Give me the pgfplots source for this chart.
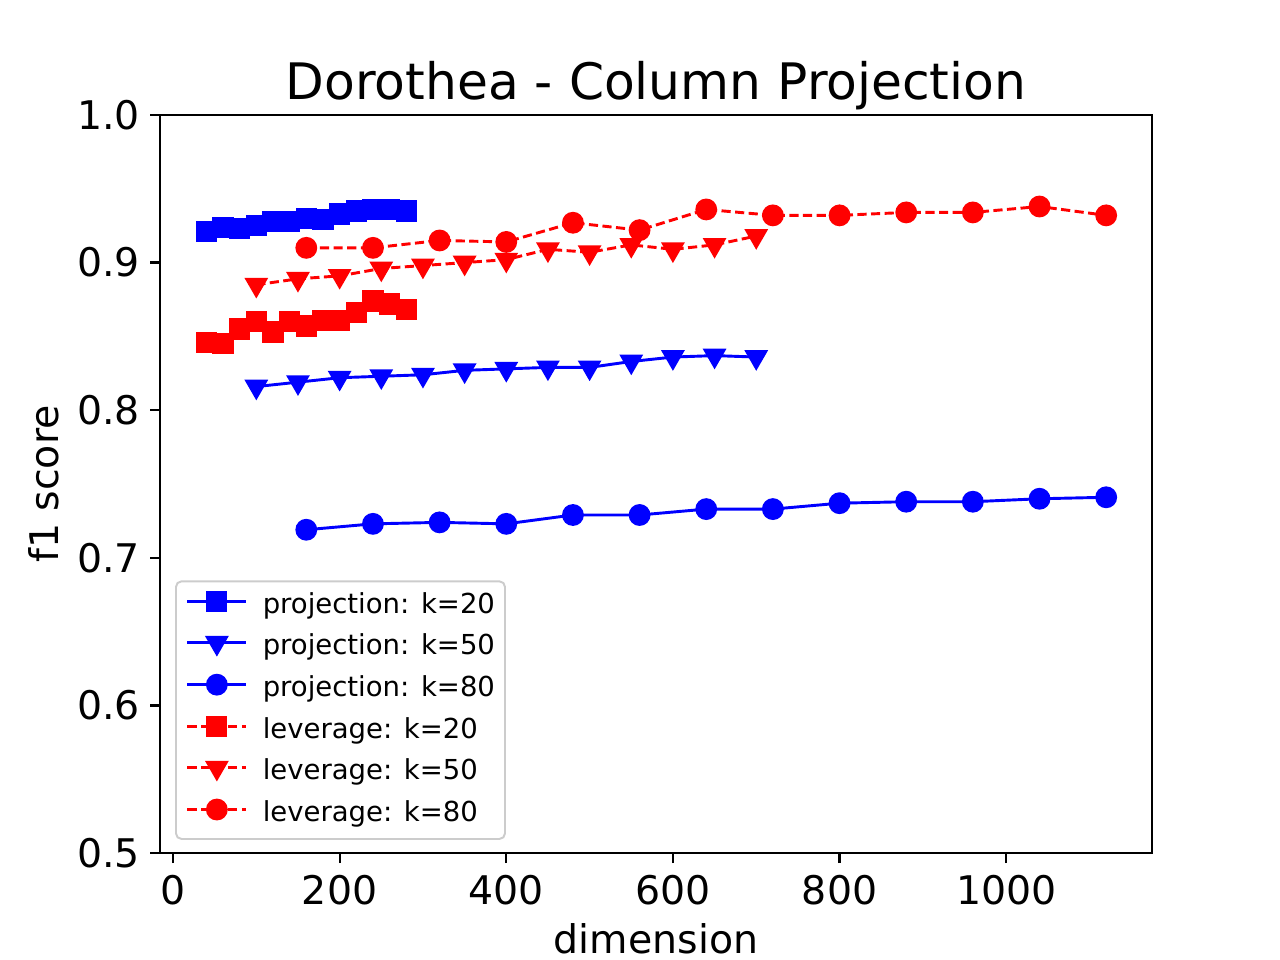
\documentclass[border=0pt]{standalone}
\usepackage{fontspec}
\setmainfont{DejaVu Sans}
\usepackage{pgfplots}
\pgfplotsset{compat=1.18}
\definecolor{mblue}{RGB}{0,0,255}
\definecolor{mred}{RGB}{255,0,0}
\begin{document}
\begin{tikzpicture}
\useasboundingbox (0,0) rectangle (460.8pt,345.6pt);
\begin{axis}[
  at={(57.6pt,38.52pt)}, anchor=south west,
  scale only axis, width=357.12pt, height=265.68pt,
  xmin=-15.6, xmax=1175, ymin=0.5, ymax=1.0,
  xtick={0,200,400,600,800,1000},
  ytick={0.5,0.6,0.7,0.8,0.9,1.0},
  xticklabel style={/pgf/number format/1000 sep={}},
  yticklabel style={/pgf/number format/fixed,/pgf/number format/fixed zerofill,/pgf/number format/precision=1},
  /pgf/number format/assume math mode=true,
  tick align=outside, major tick length=3.6pt,
  xtick pos=bottom, ytick pos=left,
  axis line style={line width=0.8pt},
  every tick/.style={black, line width=0.8pt},
  ticklabel style={font=\fontsize{14.2}{17}\selectfont, inner sep=0pt},
  xticklabel style={anchor=base, yshift=-15.1pt},
  yticklabel style={anchor=east, xshift=-3.4pt},
  title={Dorothea - Column Projection},
  title style={font=\fontsize{18.1}{21}\selectfont, at={(axis description cs:0.5,1)}, anchor=base, yshift=-0.4pt, inner sep=0pt},
  xlabel={dimension},
  xlabel style={font=\fontsize{14.2}{17}\selectfont, at={(axis description cs:0.5,0)}, anchor=base, yshift=-36pt, inner sep=0pt},
  ylabel={f1 score},
  ylabel style={font=\fontsize{14.2}{17}\selectfont, at={(axis description cs:-0.1176,0.5)}, anchor=center, inner sep=0pt},
  legend cell align=left,
  legend image code/.code={\draw[mark repeat=2,mark phase=2,yshift=1.7pt] plot coordinates {(0pt,0pt)(10.6pt,0pt)(21.2pt,0pt)};},
  legend style={at={(axis description cs:0,0)}, anchor=south west, xshift=5.4pt, yshift=4.7pt,
    font=\fontsize{9.9}{12}\selectfont, draw=black!20, line width=0.7pt, rounded corners=2pt,
    inner xsep=3.6pt, inner ysep=3.9pt, column sep=5.4pt, row sep=4.95pt,
    nodes={inner sep=0pt, text height=7.6pt, text depth=2.4pt}},
  every axis plot/.append style={line width=1.05pt},
]
\addplot[mblue, solid, mark=square*, mark size=3.3pt, mark options={solid}] coordinates {
(40,0.921)(60,0.924)(80,0.923)(100,0.925)(120,0.928)(140,0.928)(160,0.930)(180,0.929)(200,0.933)(220,0.935)(240,0.936)(260,0.936)(280,0.935)};
\addlegendentry{projection: k=20}
\addplot[mblue, solid, mark=triangle*, mark size=3.9pt, mark options={solid, rotate=180}] coordinates {
(100,0.816)(150,0.819)(200,0.822)(250,0.823)(300,0.824)(350,0.827)(400,0.828)(450,0.829)(500,0.829)(550,0.833)(600,0.836)(650,0.837)(700,0.836)};
\addlegendentry{projection: k=50}
\addplot[mblue, solid, mark=*, mark size=3.4pt, mark options={solid}] coordinates {
(160,0.719)(240,0.723)(320,0.724)(400,0.723)(480,0.729)(560,0.729)(640,0.733)(720,0.733)(800,0.737)(880,0.738)(960,0.738)(1040,0.740)(1120,0.741)};
\addlegendentry{projection: k=80}
\addplot[mred, dash pattern=on 3.3pt off 1.6pt, mark=square*, mark size=3.3pt, mark options={solid}] coordinates {
(40,0.846)(60,0.845)(80,0.855)(100,0.860)(120,0.853)(140,0.860)(160,0.857)(180,0.861)(200,0.861)(220,0.866)(240,0.874)(260,0.872)(280,0.868)};
\addlegendentry{leverage: k=20}
\addplot[mred, dash pattern=on 3.3pt off 1.6pt, mark=triangle*, mark size=3.9pt, mark options={solid, rotate=180}] coordinates {
(100,0.885)(150,0.889)(200,0.891)(250,0.896)(300,0.898)(350,0.900)(400,0.902)(450,0.909)(500,0.907)(550,0.912)(600,0.909)(650,0.912)(700,0.918)};
\addlegendentry{leverage: k=50}
\addplot[mred, dash pattern=on 3.3pt off 1.6pt, mark=*, mark size=3.4pt, mark options={solid}] coordinates {
(160,0.910)(240,0.910)(320,0.915)(400,0.914)(480,0.927)(560,0.922)(640,0.936)(720,0.932)(800,0.932)(880,0.934)(960,0.934)(1040,0.938)(1120,0.932)};
\addlegendentry{leverage: k=80}
\end{axis}
\end{tikzpicture}
\end{document}
